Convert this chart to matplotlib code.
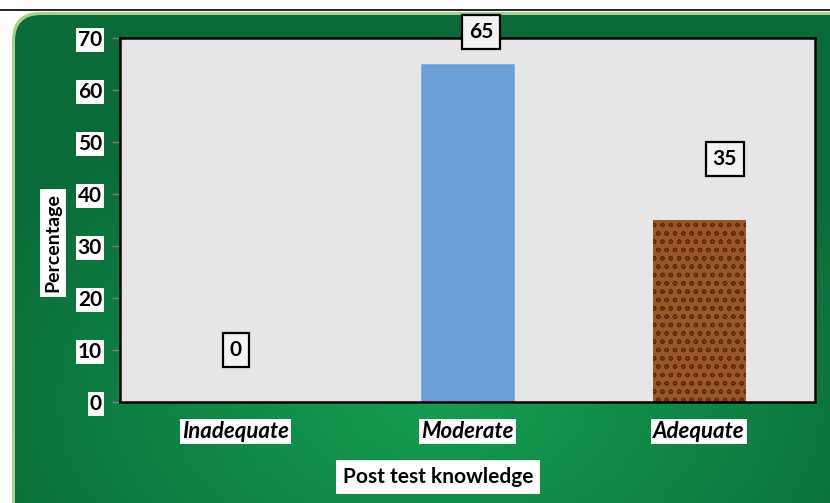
import numpy as np
import matplotlib
matplotlib.use("Agg")
import matplotlib.pyplot as plt
from matplotlib.patches import FancyBboxPatch

# data
categories = ["Inadequate", "Moderate", "Adequate"]
values = [0, 65, 35]
label_y = [10, 71.2, 46.7]        # where the value boxes sit
label_dx = [0, 0.06, 0.11]        # small right shift of the boxes
y_ticks = [0, 10, 20, 30, 40, 50, 60, 70]

plt.rcParams['font.family'] = ['Lato', 'DejaVu Sans']
plt.rcParams['hatch.linewidth'] = 0.9

W, H = 830, 503
fig = plt.figure(figsize=(W / 100, H / 100), dpi=100)
fig.patch.set_facecolor("white")

# green rounded background with a radial gradient
bg = fig.add_axes([0, 0, 1, 1])
bg.set_xlim(0, W)
bg.set_ylim(H, 0)
bg.axis("off")
bg.plot([0, W], [10, 10], color="black", lw=1.2)

rim = FancyBboxPatch((12, 12), W + 30, H + 30, boxstyle="round,pad=0,rounding_size=28",
                     facecolor="#a9d18e", edgecolor="none")
bg.add_patch(rim)
inner = FancyBboxPatch((15, 15), W + 30, H + 30, boxstyle="round,pad=0,rounding_size=26",
                       facecolor="none", edgecolor="none")
bg.add_patch(inner)
xx, yy = np.meshgrid(np.linspace(0, W, 300), np.linspace(0, H, 200))
r = np.sqrt(((xx - 440) / 520) ** 2 + ((yy - 400) / 330) ** 2)
r = np.clip(r, 0, 1)
dark = np.array([0.04, 0.42, 0.22])
light = np.array([0.08, 0.62, 0.32])
img = light[None, None, :] * (1 - r[..., None]) + dark[None, None, :] * r[..., None]
im = bg.imshow(img, extent=[0, W, H, 0], aspect="auto", zorder=1)
im.set_clip_path(inner)

# main plot
ax = fig.add_axes([120 / W, (H - 402) / H, 695 / W, 364 / H])
ax.set_facecolor("#e6e6e6")
x = np.arange(len(categories))
bars = ax.bar(x, values, width=0.4, zorder=2)
bars[1].set_facecolor("#6a9fd8")
bars[1].set_edgecolor("#7fb0e0")
bars[1].set_linewidth(0.6)
bars[2].set_facecolor("#9a5626")
bars[2].set_edgecolor("#5a2a0c")
bars[2].set_hatch("oo")
bars[2].set_linewidth(0)

ax.set_xlim(-0.5, 2.5)
ax.set_ylim(0, 70)
ax.set_yticks(y_ticks)
ax.set_yticklabels([str(t) for t in y_ticks], fontsize=15, fontweight="bold",
                   bbox=dict(facecolor="white", edgecolor="none", pad=1.2))
ax.tick_params(axis="y", length=6, width=1, color="#808080", pad=7)
ax.set_xticks(x)
ax.set_xticklabels(categories, fontsize=16, fontweight="bold", style="italic",
                   bbox=dict(facecolor="white", edgecolor="none", pad=1.5))
ax.tick_params(axis="x", length=0, pad=14)
for s in ax.spines.values():
    s.set_linewidth(1.8)
    s.set_color("black")

for i, v in enumerate(values):
    ax.text(x[i] + label_dx[i], label_y[i], str(v), ha="center", va="center",
            fontsize=15, fontweight="bold", clip_on=False, zorder=5,
            bbox=dict(facecolor="#f2f2f2", edgecolor="black", lw=1.6, pad=5))

fig.text(53 / W, 1 - 243 / H, "Percentage", rotation=90, ha="center", va="center",
         fontsize=14, fontweight="bold",
         bbox=dict(facecolor="white", edgecolor="none", pad=3))
fig.text(438 / W, 1 - 477 / H, "Post test knowledge", ha="center", va="center",
         fontsize=15, fontweight="bold",
         bbox=dict(facecolor="white", edgecolor="none", pad=5))

fig.savefig("out.png", dpi=100)
